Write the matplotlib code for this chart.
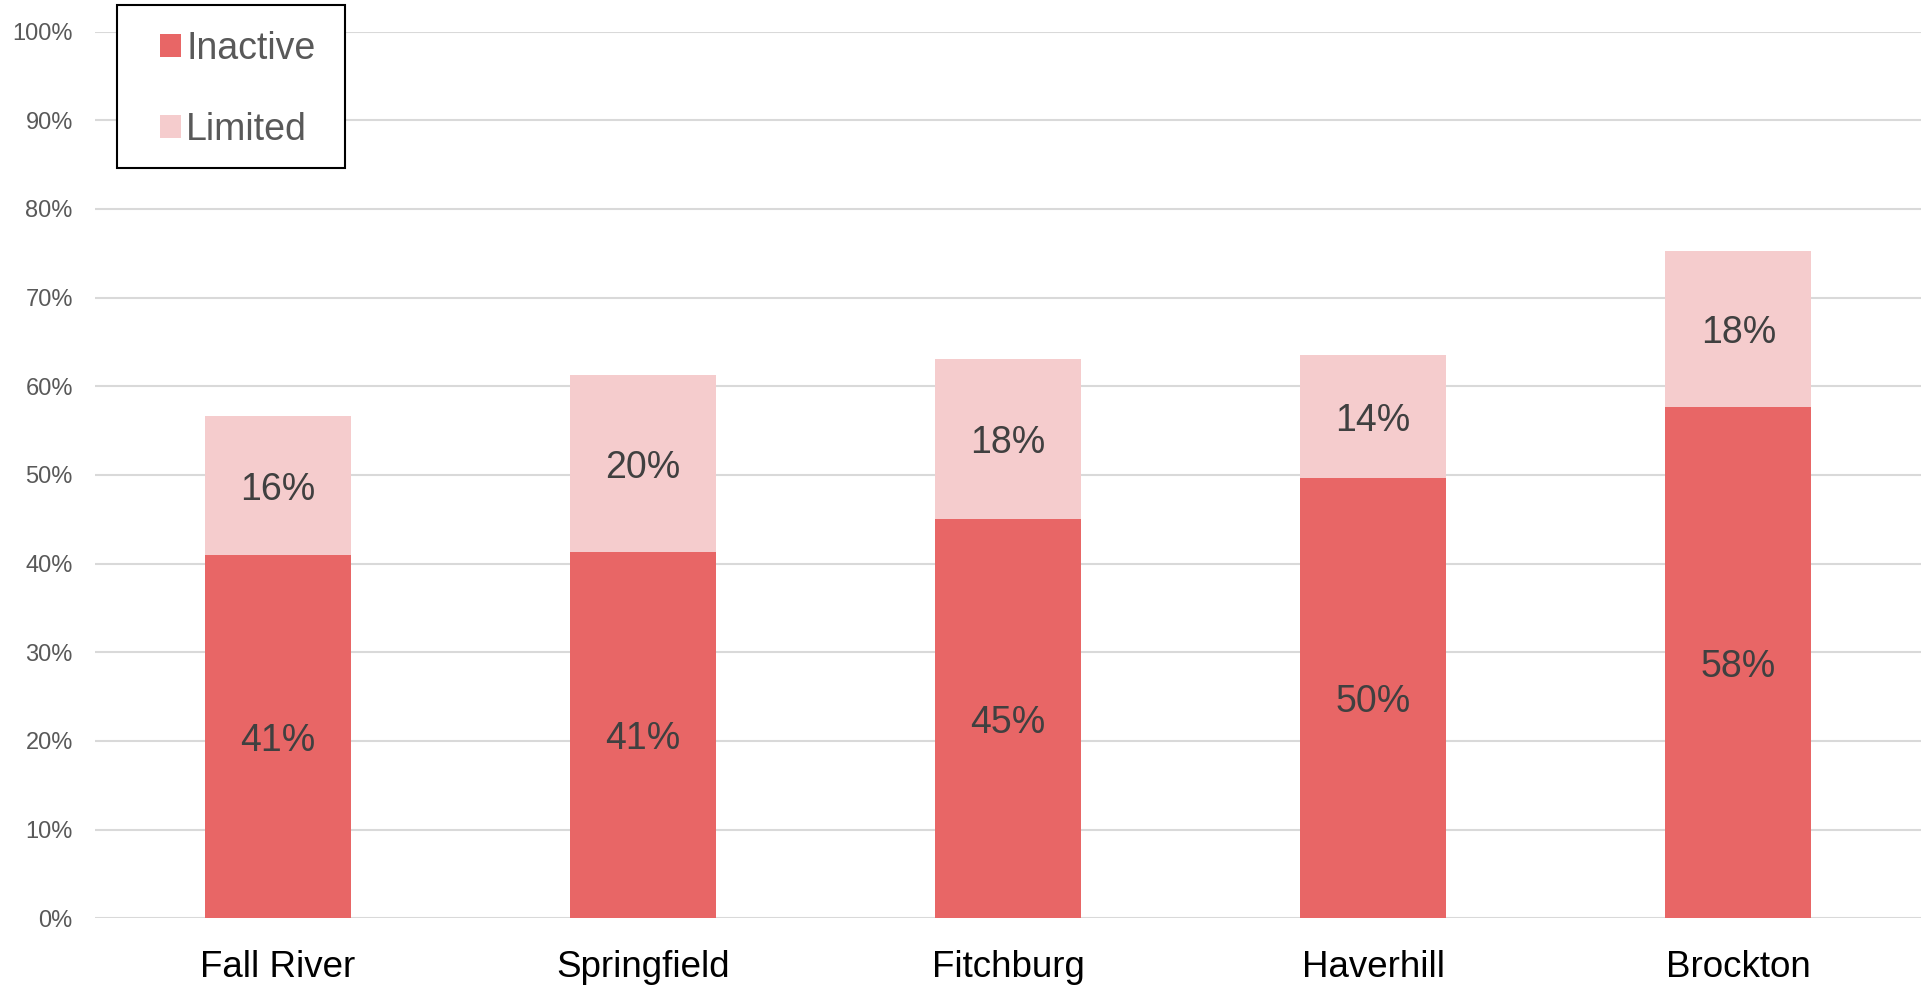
import matplotlib.pyplot as plt
from matplotlib.patches import Patch, Rectangle
from matplotlib.ticker import PercentFormatter

plt.rcParams['font.family'] = ['Liberation Sans', 'DejaVu Sans']

# Data
cities = ["Fall River", "Springfield", "Fitchburg", "Haverhill", "Brockton"]
inactive = [0.41, 0.413, 0.45, 0.497, 0.577]
limited = [0.156, 0.200, 0.181, 0.138, 0.176]

inactive_color = "#E86666"
limited_color = "#F5CCCD"

W, H = 1921, 986
fig = plt.figure(figsize=(W / 100, H / 100), dpi=100)
ax = fig.add_axes([0.0495, 0.0687, 0.9505, 0.8992])

x = range(len(cities))
ax.bar(x, inactive, width=0.40, color=inactive_color, zorder=3)
ax.bar(x, limited, width=0.40, bottom=inactive, color=limited_color, zorder=3)

# Value labels in the middle of each segment
for i in x:
    ax.annotate(f"{inactive[i] * 100:.0f}%", (i, inactive[i] / 2),
                xytext=(0, -3), textcoords="offset points", ha="center",
                va="center", fontsize=27, color="#404040", zorder=4)
    ax.annotate(f"{limited[i] * 100:.0f}%", (i, inactive[i] + limited[i] / 2),
                xytext=(0, -3), textcoords="offset points", ha="center",
                va="center", fontsize=27, color="#404040", zorder=4)

ax.set_xlim(-0.5, len(cities) - 0.5)
ax.set_ylim(0, 1.0)
ax.set_yticks([i / 10 for i in range(11)])
ax.yaxis.set_major_formatter(PercentFormatter(1.0, decimals=0))
ax.set_xticks(list(x))
ax.set_xticklabels(cities, fontsize=26.5, color="black")
ax.tick_params(axis="y", labelsize=17, labelcolor="#595959", length=0, pad=16)
ax.tick_params(axis="x", length=0, pad=22.5)
ax.grid(axis="y", color="#D9D9D9", linewidth=1.5, zorder=0)
ax.set_axisbelow(True)
for s in ax.spines.values():
    s.set_visible(False)

# Legend: entries without frame, box drawn separately
handles = [Patch(facecolor=inactive_color, label="Inactive"),
           Patch(facecolor=limited_color, label="Limited")]
leg = fig.legend(handles=handles, loc="upper left",
                 bbox_to_anchor=(160 / W, 1 - 31 / H), borderaxespad=0,
                 borderpad=0, fontsize=27, frameon=False,
                 handlelength=0.55, handleheight=0.55, handletextpad=0.15,
                 labelspacing=1.2, labelcolor="#595959")
fig.add_artist(Rectangle((117 / W, 1 - 168 / H), 228 / W, 163 / H,
                         transform=fig.transFigure, facecolor="white",
                         edgecolor="black", linewidth=1.5, zorder=1))
leg.set_zorder(2)

fig.savefig("out.png", dpi=100)
